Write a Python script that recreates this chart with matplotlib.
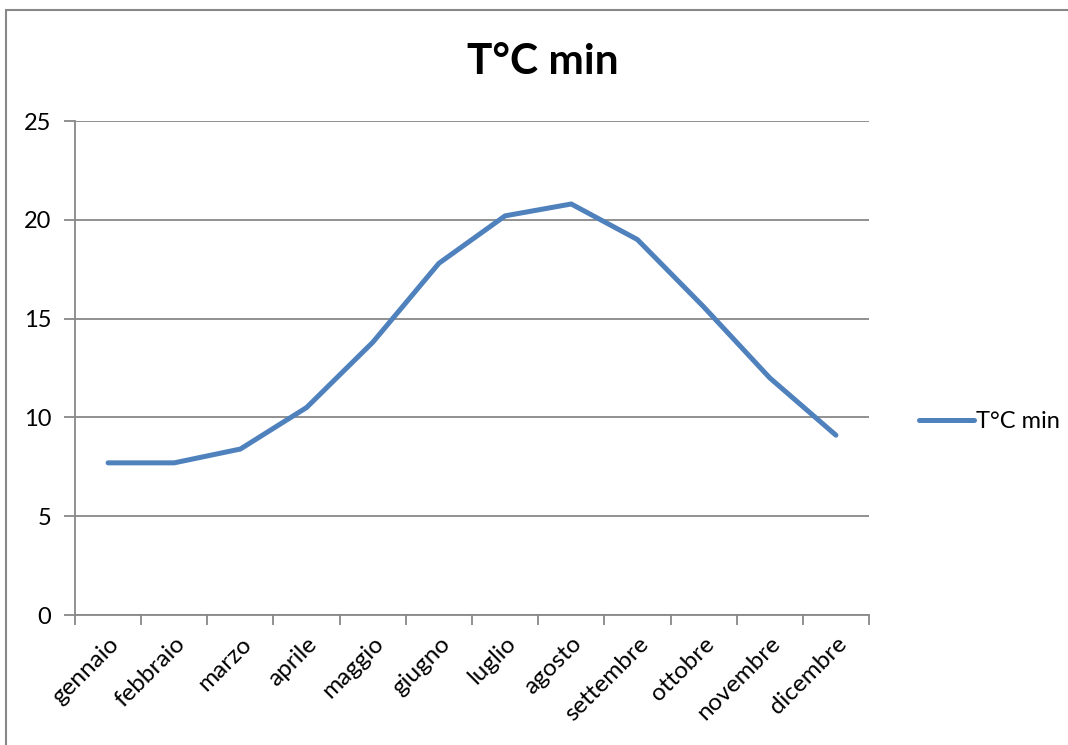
import matplotlib.pyplot as plt
from matplotlib.lines import Line2D
from matplotlib.patches import Rectangle

# Dati: temperatura minima mensile
mesi = ['gennaio', 'febbraio', 'marzo', 'aprile', 'maggio', 'giugno',
        'luglio', 'agosto', 'settembre', 'ottobre', 'novembre', 'dicembre']
t_min = [7.7, 7.7, 8.4, 10.5, 13.8, 17.8, 20.2, 20.8, 19.0, 15.6, 12.0, 9.1]
y_ticks = [0, 5, 10, 15, 20, 25]

plt.rcParams['font.family'] = ['Lato', 'DejaVu Sans']
grigio = '#888888'
blu = '#4F81BD'

fig = plt.figure(figsize=(10.68, 7.45), dpi=100)
# cornice esterna del grafico
fig.patches.append(Rectangle((6 / 1068, -0.01), 1.02, (735 / 745) + 0.01,
                             transform=fig.transFigure, fill=False,
                             edgecolor=grigio, linewidth=1.5))

ax = fig.add_axes([75 / 1068, 130 / 745, 794 / 1068, 494 / 745])
x = list(range(len(mesi)))
ax.plot(x, t_min, color=blu, linewidth=3.6, solid_capstyle='round',
        solid_joinstyle='round', zorder=3)

ax.set_xlim(-0.5, len(mesi) - 0.5)
ax.set_ylim(0, 25)
ax.set_yticks(y_ticks)
ax.set_yticklabels([str(v) for v in y_ticks], fontsize=17)
ax.yaxis.grid(True, color=grigio, linewidth=1.3)
ax.set_axisbelow(True)

# tacche dell'asse x ai bordi delle categorie
ax.set_xticks([i - 0.5 for i in range(len(mesi) + 1)])
ax.set_xticklabels([])
ax.set_xticks(x, minor=True)
ax.set_xticklabels(mesi, minor=True, rotation=45, ha='right',
                   rotation_mode='anchor', fontsize=17.5)
ax.tick_params(axis='x', which='minor', length=0, pad=13)
ax.tick_params(axis='x', which='major', length=7, width=1.3, color=grigio)
ax.tick_params(axis='y', length=8, width=1.3, color=grigio, pad=9)

ax.spines['top'].set_visible(False)
ax.spines['right'].set_visible(False)
for s in ['left', 'bottom']:
    ax.spines[s].set_color(grigio)
    ax.spines[s].set_linewidth(1.3)

fig.text(543 / 1068, 1 - 62 / 745, 'T°C min', fontsize=30.5, fontweight='bold',
         ha='center', va='center')

handle = Line2D([], [], color=blu, linewidth=3.6, solid_capstyle='round')
fig.legend([handle], ['T°C min'], loc='center left',
           bbox_to_anchor=(898 / 1068, 1 - 422 / 745), frameon=False,
           fontsize=17, handlelength=2.3, handletextpad=0.1)

fig.savefig('out.png', dpi=100)
